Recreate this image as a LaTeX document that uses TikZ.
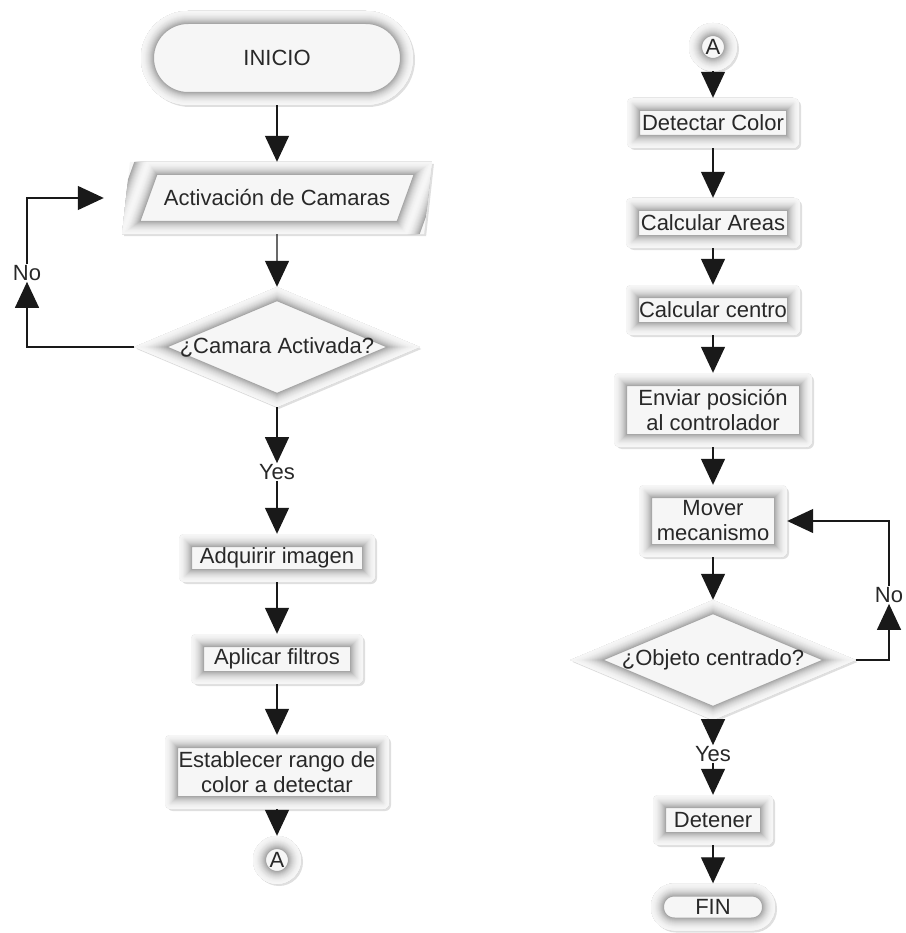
\documentclass[tikz,border=0pt]{standalone}
\usepackage{fontspec}
\setmainfont{Liberation Sans}
\usetikzlibrary{shapes.geometric, arrows.meta, shadows}

\definecolor{txt}{RGB}{40,40,40}
\definecolor{linec}{RGB}{25,25,25}

% inner glow: nested strokes, clipped by the node's own path
\newcommand\glowloop[1]{%
  \foreach \i in {0,...,12} {
    \pgfmathtruncatemacro\w{26-2*\i}
    \pgfmathtruncatemacro\c{7+62*((13-\i)/13)^2}
    \draw[gray!\c, line width=\w pt] #1;
  }}

\tikzset{
  base/.style={fill=gray!7, text=txt, align=center, inner sep=0pt,
    font=\fontsize{22}{25}\selectfont,
    drop shadow={shadow xshift=2pt, shadow yshift=-2pt, opacity=0.25}},
  procbox/.style={base, rectangle, rounded corners=6pt,
    path picture={\glowloop{[rounded corners=6pt] (path picture bounding box.south west) rectangle (path picture bounding box.north east)}}},
  stadium/.style={base, rectangle, rounded corners=#1,
    path picture={\glowloop{[rounded corners=#1] (path picture bounding box.south west) rectangle (path picture bounding box.north east)}}},
  iobox/.style={base, trapezium, trapezium left angle=70, trapezium right angle=110,
    trapezium stretches=true,
    path picture={\glowloop{(path picture bounding box.south west) -- ([xshift=26pt]path picture bounding box.north west) -- (path picture bounding box.north east) -- ([xshift=-26pt]path picture bounding box.south east) -- cycle}}},
  decision/.style={base, diamond, aspect=2.4, minimum width=285pt, minimum height=120pt,
    path picture={\glowloop{(path picture bounding box.north) -- (path picture bounding box.east) -- (path picture bounding box.south) -- (path picture bounding box.west) -- cycle}}},
  connector/.style={base, circle, minimum size=48pt,
    path picture={\glowloop{(path picture bounding box.center) circle (24pt)}}},
  lbl/.style={text=txt, inner sep=1pt, font=\fontsize{22}{25}\selectfont},
  arr/.style={draw=linec, line width=1.3pt, -{Triangle[width=24pt,length=26pt]}}
}

\begin{document}
\begin{tikzpicture}[x=1pt, y=-1pt]
  \useasboundingbox (0,0) rectangle (905,933);

  % left column
  \node[stadium=47pt, minimum width=272pt, minimum height=94pt] (inicio) at (277,58) {INICIO};
  \node[iobox, minimum width=310pt, minimum height=72pt] (activ) at (277,198) {Activación de Camaras};
  \node[decision] (camact) at (277,347) {¿Camara Activada?};
  \node[lbl] (yesl) at (277,472) {Yes};
  \node[procbox, minimum width=196pt, minimum height=48pt] (adq) at (277,558) {Adquirir imagen};
  \node[procbox, minimum width=172pt, minimum height=50pt] (apl) at (277,659) {Aplicar filtros};
  \node[procbox, minimum width=224pt, minimum height=74pt] (est) at (277,772) {Establecer rango de\\color a detectar};
  \node[connector] (al) at (277,860) {A};
  \node[lbl] (nol) at (27,273) {No};

  \draw[arr] (inicio) -- (activ);
  \draw[arr] (activ) -- (camact);
  \draw[arr] (camact) -- (yesl);
  \draw[arr] (yesl) -- (adq);
  \draw[arr] (adq) -- (apl);
  \draw[arr] (apl) -- (est);
  \draw[arr] (est) -- (al);
  \draw[arr] (camact.west) -| (nol.south);
  \draw[arr] (nol.north) |- ([xshift=-22pt]activ.west);

  % right column
  \node[connector] (ar) at (713,47) {A};
  \node[procbox, minimum width=172pt, minimum height=50pt] (det) at (713,123) {Detectar Color};
  \node[procbox, minimum width=174pt, minimum height=50pt] (areas) at (713,223) {Calcular Areas};
  \node[procbox, minimum width=174pt, minimum height=50pt] (centro) at (713,310) {Calcular centro};
  \node[procbox, minimum width=198pt, minimum height=74pt] (enviar) at (713,410) {Enviar posición\\al controlador};
  \node[procbox, minimum width=148pt, minimum height=72pt] (mover) at (713,521) {Mover\\mecanismo};
  \node[decision] (objc) at (713,660) {¿Objeto centrado?};
  \node[lbl] (yesr) at (713,754) {Yes};
  \node[procbox, minimum width=120pt, minimum height=50pt] (deten) at (713,820) {Detener};
  \node[stadium=23pt, minimum width=124pt, minimum height=47pt] (fin) at (713,907) {FIN};
  \node[lbl] (nor) at (889,595) {No};

  \foreach \a/\b in {ar/det, det/areas, areas/centro, centro/enviar, enviar/mover,
                     mover/objc, objc/yesr, yesr/deten, deten/fin}
    \draw[arr] (\a) -- (\b);
  \draw[arr] (objc.east) -| (nor.south);
  \draw[arr] (nor.north) |- (mover.east);
\end{tikzpicture}
\end{document}
